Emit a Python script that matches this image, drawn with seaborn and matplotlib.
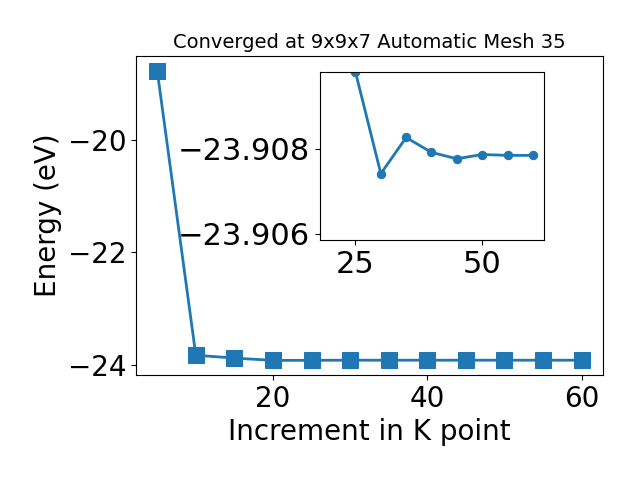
import matplotlib
matplotlib.use("Agg")
import matplotlib.pyplot as plt
import seaborn as sns
import pandas as pd

# K point increments and total energies (eV)
kpoints = [5, 10, 15, 20, 25, 30, 35, 40, 45, 50, 55, 60]
energy = [-18.78, -23.82, -23.87, -23.9112, -23.9098, -23.90741, -23.90826,
          -23.90791, -23.90776, -23.90786, -23.90784, -23.90784]

df = pd.DataFrame({"K": kpoints, "E": energy})
zoom = df[df["K"] >= 20]

fig = plt.figure(figsize=(6.4, 4.8), dpi=100)
ax = fig.add_axes([0.2125, 0.219, 0.7295, 0.664])
sns.lineplot(data=df, x="K", y="E", marker="s", markersize=11, linewidth=2,
             color="#1f77b4", markeredgecolor="#1f77b4", ax=ax)
ax.set_title("Converged at 9x9x7 Automatic Mesh 35", fontsize=14)
ax.set_xlabel("Increment in K point", fontsize=20)
ax.set_ylabel("Energy (eV)", fontsize=20)
ax.set_yticks([-24, -22, -20])
ax.tick_params(labelsize=20)

# Inset zoomed on the converged part
ins = fig.add_axes([0.5, 0.5, 0.35, 0.35])
sns.lineplot(data=zoom, x="K", y="E", marker="o", markersize=6, linewidth=2,
             color="#1f77b4", markeredgecolor="#1f77b4", ax=ins)
ins.set_ylim(-23.90585, -23.9098)
ins.set_xlim(18, 62.2)
ins.set_xticks([25, 50])
ins.set_yticks([-23.908, -23.906])
ins.ticklabel_format(useOffset=False)
ins.set_xlabel("")
ins.set_ylabel("")
ins.tick_params(labelsize=22)

plt.savefig("out.png", dpi=100)
